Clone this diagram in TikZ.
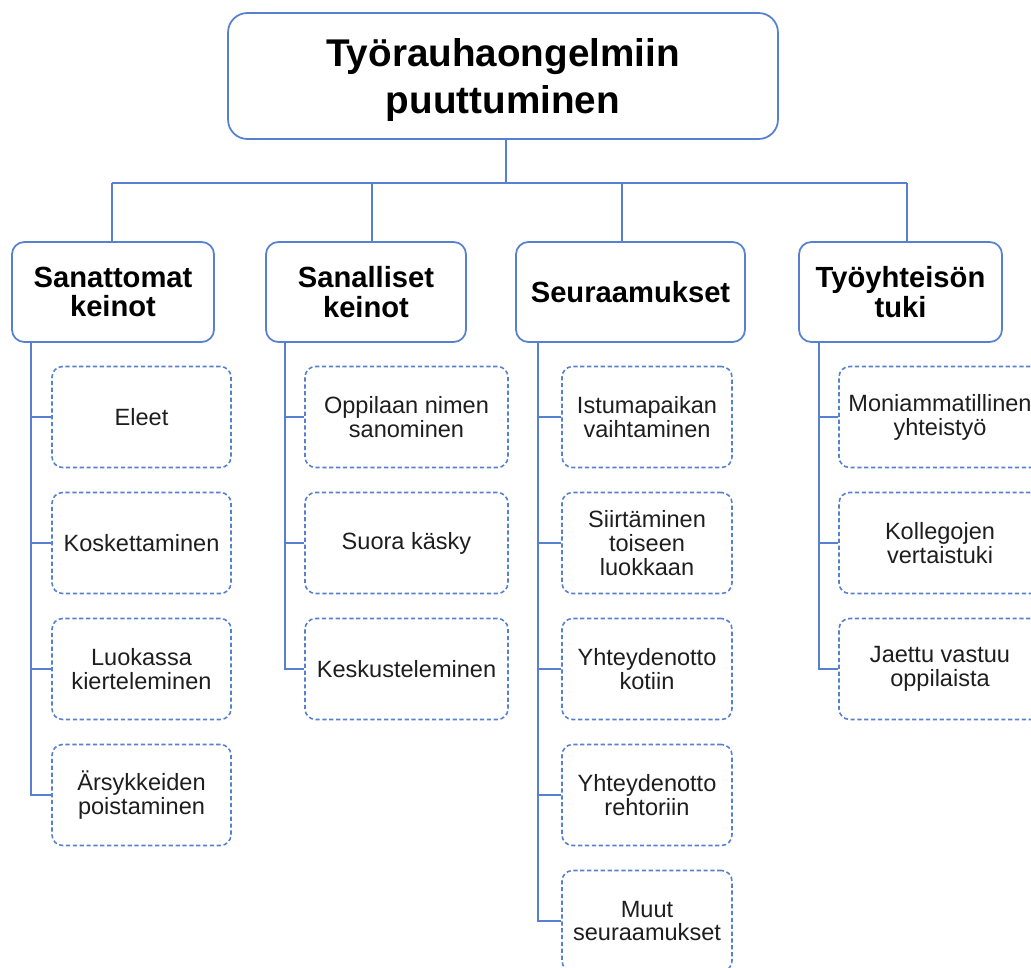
\documentclass[tikz,border=0pt]{standalone}
\usepackage{fontspec}
\setmainfont{Liberation Sans}
\usepackage{tikz}
\usetikzlibrary{calc,positioning}
\usepackage{xcolor}
\definecolor{linkblue}{RGB}{88,128,208}
\definecolor{leaftext}{RGB}{30,30,30}

\begin{document}
\begin{tikzpicture}[x=0.02cm,y=-0.02cm]
\tikzstyle{head}=[draw=linkblue, line width=1pt, rounded corners=11pt, align=center, inner sep=0pt, text depth=0pt, font=\fontsize{22}{26.5}\selectfont\bfseries]
\tikzstyle{group}=[draw=linkblue, line width=1pt, rounded corners=7pt, align=center, inner sep=0pt, minimum height=2cm, font=\fontsize{16.6}{17}\selectfont\bfseries]
\tikzstyle{item}=[draw=linkblue, line width=0.9pt, dash pattern=on 2.4pt off 1.5pt, rounded corners=6pt, align=center, inner sep=0pt, minimum height=2.02cm, text=leaftext, font=\fontsize{13.4}{13.6}\selectfont]
\tikzstyle{link}=[draw=linkblue, line width=1pt]

\useasboundingbox (0,0) rectangle (1031,967);

\node[head, minimum width=11cm, minimum height=2.52cm] (top) at (503,76) {Työrauhaongelmiin\\puuttuminen};

\node[group, minimum width=4.04cm] (c1) at (113,292) {Sanattomat\\keinot};
\node[group, minimum width=4cm] (c2) at (366,292) {Sanalliset\\keinot};
\node[group, minimum width=4.58cm] (c3) at (630.5,292) {Seuraamukset};
\node[group, minimum width=4.06cm] (c4) at (900.5,292) {Työyhteisön\\tuki};

% Sanattomat keinot
\node[item, minimum width=3.58cm] (a1) at (141.5,417) {Eleet};
\node[item, minimum width=3.58cm] (a2) at (141.5,543) {Koskettaminen};
\node[item, minimum width=3.58cm] (a3) at (141.5,669) {Luokassa\\kierteleminen};
\node[item, minimum width=3.58cm] (a4) at (141.5,795) {Ärsykkeiden\\poistaminen};

% Sanalliset keinot
\node[item, minimum width=4.06cm] (b1) at (406.5,417) {Oppilaan nimen\\sanominen};
\node[item, minimum width=4.06cm] (b2) at (406.5,543) {Suora käsky};
\node[item, minimum width=4.06cm] (b3) at (406.5,669) {Keskusteleminen};

% Seuraamukset
\node[item, minimum width=3.4cm] (s1) at (647,417) {Istumapaikan\\vaihtaminen};
\node[item, minimum width=3.4cm] (s2) at (647,543) {Siirtäminen\\toiseen\\luokkaan};
\node[item, minimum width=3.4cm] (s3) at (647,669) {Yhteydenotto\\kotiin};
\node[item, minimum width=3.4cm] (s4) at (647,795) {Yhteydenotto\\rehtoriin};
\node[item, minimum width=3.4cm] (s5) at (647,921) {Muut\\seuraamukset};

% Työyhteisön tuki
\node[item, minimum width=4.04cm] (t1) at (940,417) {Moniammatillinen\\yhteistyö};
\node[item, minimum width=4.04cm] (t2) at (940,543) {Kollegojen\\vertaistuki};
\node[item, minimum width=4.04cm] (t3) at (940,669) {Jaettu vastuu\\oppilaista};

\coordinate (bus) at (506,183);
\coordinate (d1) at (112,183);
\coordinate (d2) at (372,183);
\coordinate (d3) at (622,183);
\coordinate (d4) at (907,183);

\draw[link] (top.south -| bus) -- (bus);
\draw[link] (d1) -- (d4);
\foreach \d/\c in {d1/c1,d2/c2,d3/c3,d4/c4}{\draw[link] (\d) -- (\d |- \c.north);}

\foreach \c/\s/\i in {c1/0.4/a1,c1/0.4/a2,c1/0.4/a3,c1/0.4/a4,
                     c2/0.4/b1,c2/0.4/b2,c2/0.4/b3,
                     c3/0.46/s1,c3/0.46/s2,c3/0.46/s3,c3/0.46/s4,c3/0.46/s5,
                     c4/0.42/t1,c4/0.42/t2,c4/0.42/t3}{\draw[link] ([xshift=\s cm]\c.south west) |- (\i.west);}
\end{tikzpicture}
\end{document}
